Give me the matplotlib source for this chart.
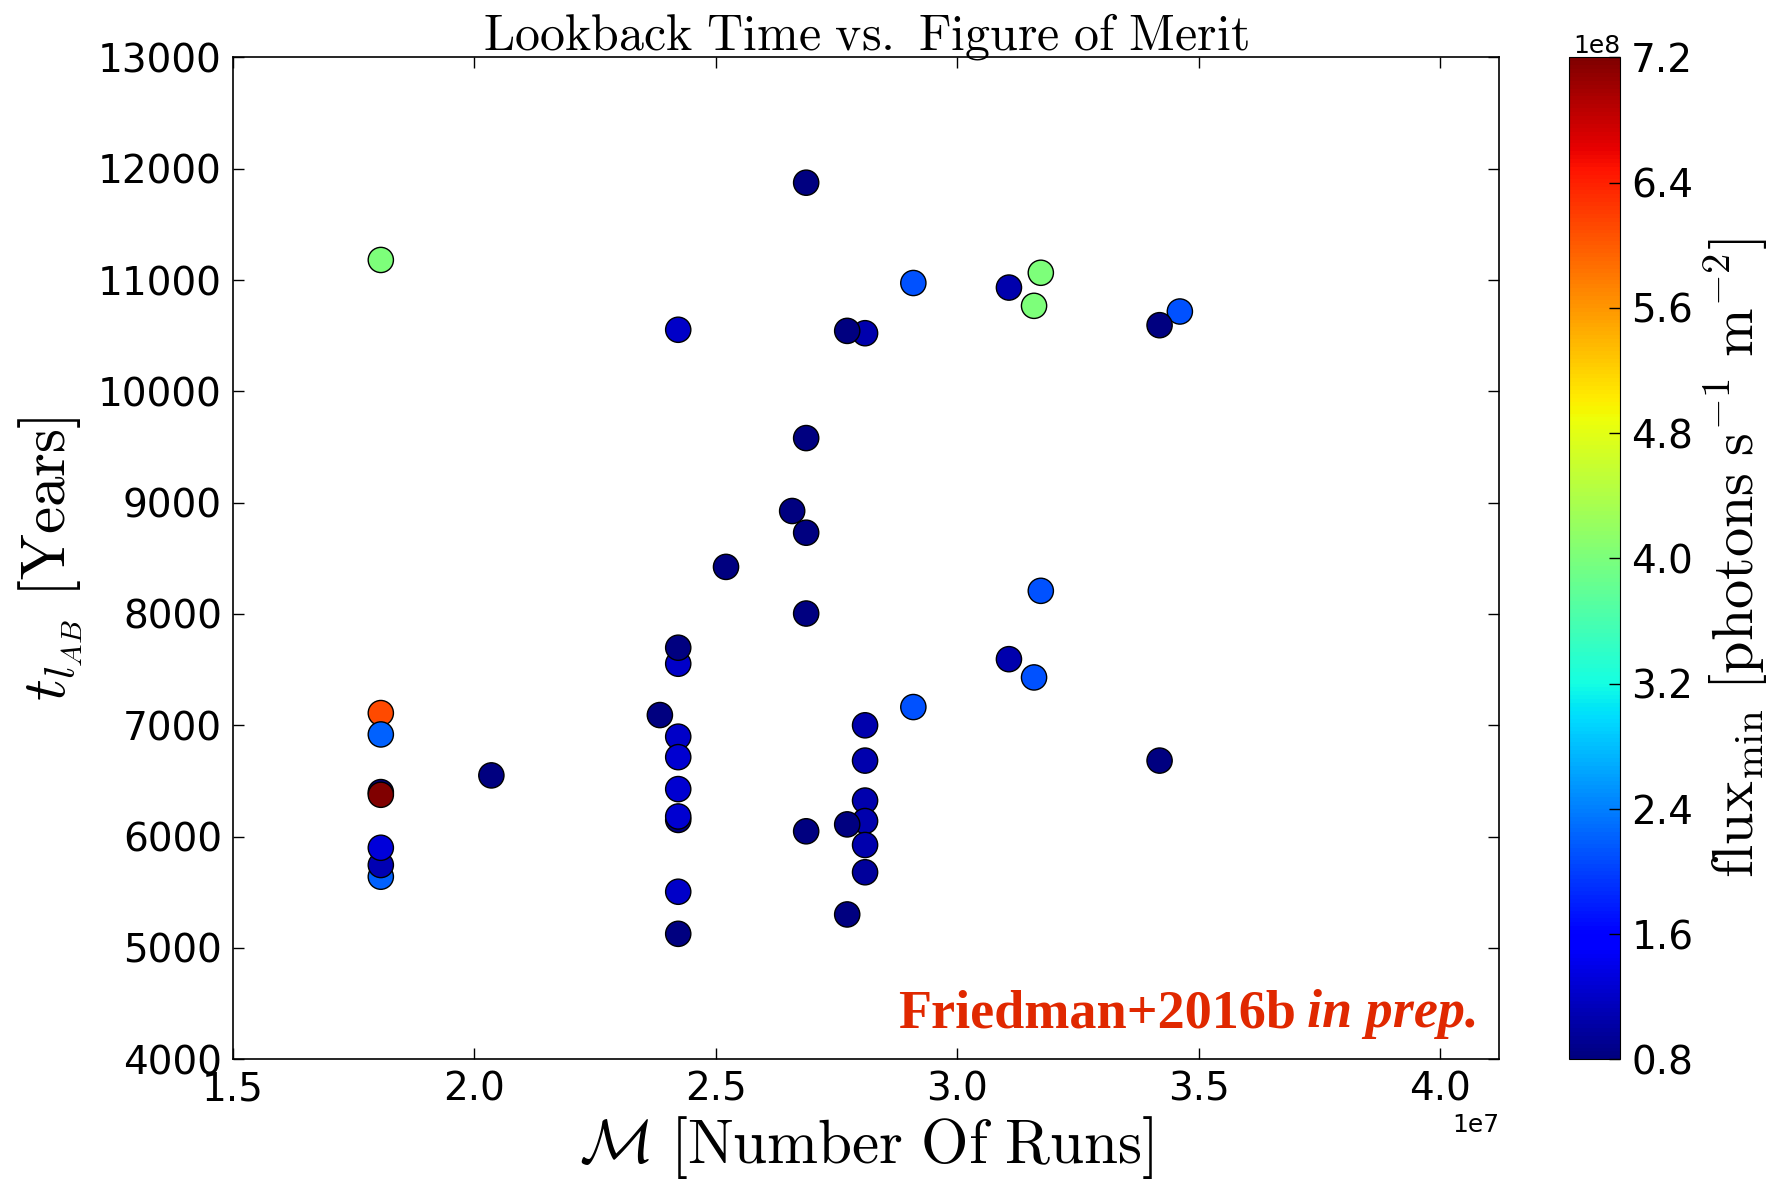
import matplotlib
matplotlib.use('Agg')
import matplotlib.pyplot as plt

plt.rcParams['mathtext.fontset'] = 'cm'
plt.rcParams['font.family'] = 'DejaVu Sans'

# figure of merit (number of runs), lookback time (years), min flux
runs = [1.806e7, 1.806e7, 1.806e7, 1.806e7, 1.806e7, 1.806e7, 1.806e7, 1.806e7,
        2.035e7, 2.384e7,
        2.422e7, 2.422e7, 2.422e7, 2.422e7, 2.422e7, 2.422e7, 2.422e7, 2.422e7, 2.422e7, 2.422e7,
        2.521e7, 2.658e7,
        2.687e7, 2.687e7, 2.687e7, 2.687e7, 2.687e7,
        2.809e7, 2.809e7, 2.809e7, 2.809e7, 2.809e7, 2.809e7, 2.809e7,
        2.772e7, 2.772e7, 2.772e7,
        2.909e7, 2.909e7,
        3.107e7, 3.107e7, 3.173e7, 3.159e7, 3.173e7, 3.159e7,
        3.461e7, 3.419e7, 3.419e7]
lookback = [11180, 6400, 6376, 7110, 6918, 5640, 5745, 5900,
            6550, 7092,
            10553, 7553, 7697, 6898, 6714, 6427, 6150, 6181, 5505, 5127,
            8423, 8925,
            11874, 9580, 8730, 8004, 6048,
            10522, 7000, 6683, 6324, 6140, 5925, 5680,
            10543, 6110, 5301,
            10973, 7164,
            10932, 7594, 11065, 10768, 8208, 7430,
            10717, 10594, 6683]
flux = [4.0e8, 0.8e8, 7.2e8, 6.1e8, 2.2e8, 2.2e8, 1.08e8, 1.3e8,
        0.8e8, 0.8e8,
        1.22e8, 1.22e8, 0.8e8, 1.2e8, 1.25e8, 1.25e8, 0.8e8, 1.25e8, 1.2e8, 0.8e8,
        0.8e8, 0.8e8,
        0.8e8, 0.8e8, 0.8e8, 0.8e8, 0.8e8,
        1.05e8, 1.05e8, 1.05e8, 1.05e8, 1.05e8, 1.05e8, 0.95e8,
        0.8e8, 0.8e8, 0.8e8,
        2.1e8, 2.1e8,
        1.05e8, 1.05e8, 4.0e8, 4.0e8, 2.1e8, 2.1e8,
        2.1e8, 0.8e8, 0.8e8]

cbar_ticks = [0.8e8, 1.6e8, 2.4e8, 3.2e8, 4.0e8, 4.8e8, 5.6e8, 6.4e8, 7.2e8]

fig = plt.figure(figsize=(17.86, 11.8), dpi=100)
ax = fig.add_axes([0.1305, 0.1023, 0.7088, 0.8491])
cax = fig.add_axes([0.8785, 0.1023, 0.0286, 0.8491])

sc = ax.scatter(runs, lookback, c=flux, cmap='jet', s=330, edgecolors='black',
                linewidths=1.0, zorder=3)
ax.set_xlim(1.5e7, 4.122e7)
ax.set_ylim(4000, 13000)
ax.set_yticks(range(4000, 13001, 1000))

ax.tick_params(direction='in', top=True, right=True, length=8, width=1,
               labelsize=28, pad=8)
ax.xaxis.get_offset_text().set_fontsize(18)
for sp in ax.spines.values():
    sp.set_linewidth(1.2)

ax.set_title(r'$\mathrm{Lookback\ Time\ vs.\ Figure\ of\ Merit}$', fontsize=36, pad=6)
ax.set_xlabel(r'$\mathcal{M}\ \mathrm{[Number\ Of\ Runs]}$', fontsize=44, labelpad=4)
ax.set_ylabel(r'$t_{l_{AB}}\ \mathrm{[Years]}$', fontsize=44, labelpad=9)

cb = fig.colorbar(sc, cax=cax, ticks=cbar_ticks)
cb.ax.tick_params(direction='in', length=8, width=1, labelsize=28, pad=8)
cb.ax.yaxis.get_offset_text().set_fontsize(18)
cb.set_label(r'$\mathrm{flux_{min}\ [photons\ s^{-1}\ m^{-2}]}$', fontsize=42, labelpad=6)

# watermark text, bold + bold italic
red = '#e02800'
t2 = ax.text(0.984, 0.032, 'in prep.', transform=ax.transAxes, ha='right', va='baseline',
             fontsize=39, color=red, fontweight='bold', fontstyle='italic',
             family='Liberation Serif', zorder=4)
fig.canvas.draw()
bb = t2.get_window_extent()
x0 = ax.transAxes.inverted().transform((bb.x0, bb.y0))[0]
ax.text(x0 - 0.009, 0.032, 'Friedman+2016b', transform=ax.transAxes, ha='right',
        va='baseline', fontsize=39, color=red, fontweight='bold',
        family='Liberation Serif', zorder=4)

fig.savefig('out.png', dpi=100)
